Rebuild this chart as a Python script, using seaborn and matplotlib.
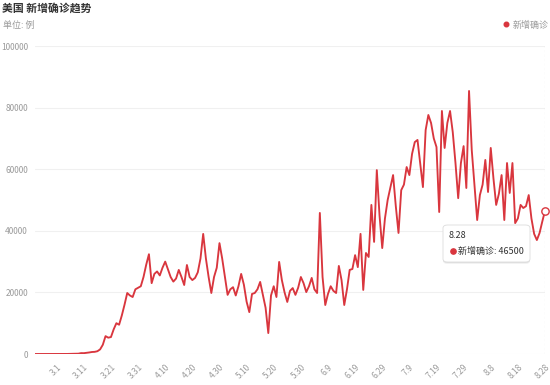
import matplotlib
matplotlib.use("Agg")
import matplotlib.pyplot as plt
import seaborn as sns
import pandas as pd
import numpy as np
from matplotlib.lines import Line2D
from matplotlib.patches import FancyBboxPatch

# ---------------- data ----------------
start_date = "2020-02-22"
end_date = "2020-08-28"

daily_new = [
    0, 0, 1, 0, 6, 0, 3, 2,                      # 2.22 - 2.29
    7, 9, 21, 25, 20, 60, 70, 100, 110, 290,      # 3.1 - 3.10
    270, 380, 500, 650, 700, 900, 1500, 3000, 5800, 5300,   # 3.11 - 3.20
    5500, 8000, 10000, 9500, 12500, 16000, 19800, 19000, 18500, 21000,  # 3.21 - 3.30
    21500, 22000, 25000, 29000, 32400, 23000, 26000, 26800, 25500, 28000,  # 3.31 - 4.9
    30000, 27500, 25000, 23500, 24500, 27300, 25000, 22400, 28900, 25000,  # 4.10 - 4.19
    24000, 24700, 26500, 31000, 39000, 31000, 25000, 19800, 25000, 28000,  # 4.20 - 4.29
    36000, 31000, 25000, 19200, 21000, 21700, 19000, 22000, 26000, 22500,  # 4.30 - 5.9
    17000, 13600, 19500, 19800, 21000, 23400, 19200, 15000, 6800, 19000,   # 5.10 - 5.19
    22000, 18500, 29900, 24000, 20000, 16900, 20500, 21400, 19200, 21500,  # 5.20 - 5.29
    25000, 23000, 20100, 22000, 24700, 21000, 19800, 45800, 25000, 15900,  # 5.30 - 6.8
    19500, 22000, 20500, 19800, 28600, 24000, 15900, 21000, 27300, 27600,  # 6.9 - 6.18
    32100, 28200, 39000, 20800, 32800, 31500, 48400, 36400, 59700, 45000,  # 6.19 - 6.28
    34400, 44000, 50000, 54000, 58100, 48000, 39300, 53200, 55000, 60700,  # 6.29 - 7.8
    58100, 65000, 68800, 69500, 62000, 54200, 72700, 77600, 75000, 70000,  # 7.9 - 7.18
    67200, 46100, 78900, 66900, 75000, 78900, 72000, 62000, 50600, 62000,  # 7.19 - 7.28
    67500, 53900, 85400, 66200, 55000, 43500, 51600, 55000, 63000, 52600,  # 7.29 - 8.7
    66900, 57000, 48400, 52000, 58100, 43500, 62000, 52300, 62000, 42500,  # 8.8 - 8.17
    44000, 48400, 47400, 48000, 51600, 44000, 39000, 37000, 39300, 43000,  # 8.18 - 8.27
    46500,                                        # 8.28
]

tick_labels = ["3.1", "3.11", "3.21", "3.31", "4.10", "4.20", "4.30", "5.10",
               "5.20", "5.30", "6.9", "6.19", "6.29", "7.9", "7.19", "7.29",
               "8.8", "8.18", "8.28"]
y_ticks = [0, 20000, 40000, 60000, 80000, 100000]

title_text = "美国 新增确诊趋势"
unit_text = "单位: 例"
series_name = "新增确诊"

# ---------------- build ----------------
dates = pd.date_range(start_date, end_date, freq="D")
date_labels = [f"{d.month}.{d.day}" for d in dates]
df = pd.DataFrame({"idx": np.arange(len(daily_new)), "value": daily_new,
                   "date": date_labels})
tick_pos = [date_labels.index(t) for t in tick_labels]

sns.set_theme(style="white")
plt.rcParams["font.family"] = ["Noto Sans CJK SC", "DejaVu Sans"]

RED = "#d9363e"
GRAY = "#9a9a9a"

fig = plt.figure(figsize=(5.5, 3.85), dpi=100)
ax = fig.add_axes([35 / 550, 1 - 354 / 385, 510 / 550, 308 / 385])

sns.lineplot(data=df, x="idx", y="value", ax=ax, color=RED, linewidth=1.35,
             solid_joinstyle="round", legend=False)

ax.set_xlim(0, len(daily_new) - 1)
ax.set_ylim(0, 100000)
ax.set_yticks(y_ticks)
ax.set_yticklabels([str(v) for v in y_ticks], fontsize=6, color=GRAY)
ax.set_xticks(tick_pos)
ax.set_xticklabels(tick_labels, fontsize=6, color=GRAY, rotation=45,
                   ha="right", rotation_mode="anchor")
ax.tick_params(axis="both", length=0)
ax.tick_params(axis="y", pad=5)
ax.tick_params(axis="x", pad=6)
ax.set_xlabel("")
ax.set_ylabel("")
for s in ax.spines.values():
    s.set_visible(False)
ax.grid(axis="y", color="#f0f0f0", linewidth=0.8)
ax.grid(axis="x", visible=False)
ax.set_axisbelow(True)

# axis pointer and hovered point
last_i = len(daily_new) - 1
ax.axvline(last_i, color="#cccccc", linewidth=0.8, linestyle=(0, (2, 2)),
           zorder=1)
ax.scatter([last_i], [daily_new[-1]], s=28, facecolor="white",
           edgecolor=RED, linewidth=1.0, zorder=5, clip_on=False)

# titles
fig.text(2 / 550, 1 - 8 / 385, title_text, fontsize=7.8, fontweight="bold",
         color="#333333", va="center", ha="left")
fig.text(3 / 550, 1 - 25 / 385, unit_text, fontsize=6.5, color=GRAY,
         va="center", ha="left")

# legend
handle = Line2D([], [], marker="o", linestyle="none", color=RED,
                markersize=3.3)
fig.legend([handle], [series_name], loc="center right",
           bbox_to_anchor=(552 / 550, 1 - 25 / 385), frameon=False,
           fontsize=6.5, labelcolor=GRAY, handletextpad=0.3,
           borderaxespad=0, handlelength=0.8)

# tooltip (with soft shadow)
for off, alpha in [(2.0, 0.05), (1.0, 0.07)]:
    sh = FancyBboxPatch((443 / 550, 1 - (262 + off) / 385), 87 / 550,
                        (37 + off) / 385,
                        boxstyle="round,pad=0,rounding_size=0.008",
                        transform=fig.transFigure, facecolor="black",
                        edgecolor="none", alpha=alpha, zorder=9)
    fig.patches.append(sh)
box = FancyBboxPatch((443 / 550, 1 - 262 / 385), 87 / 550, 37 / 385,
                     boxstyle="round,pad=0,rounding_size=0.008",
                     transform=fig.transFigure, facecolor="white",
                     edgecolor="#dddddd", linewidth=0.6, zorder=10)
fig.patches.append(box)
fig.text(449 / 550, 1 - 236 / 385, date_labels[-1], fontsize=6.5,
         color="#333333", va="center", ha="left", zorder=11)
fig.lines.append(Line2D([453 / 550], [1 - 251 / 385], marker="o",
                        color=RED, markersize=3.8, transform=fig.transFigure,
                        zorder=11))
fig.text(458 / 550, 1 - 251 / 385, f"{series_name}: {daily_new[-1]}",
         fontsize=6.5, color="#333333", va="center", ha="left", zorder=11)

fig.savefig("out.png", dpi=100)
